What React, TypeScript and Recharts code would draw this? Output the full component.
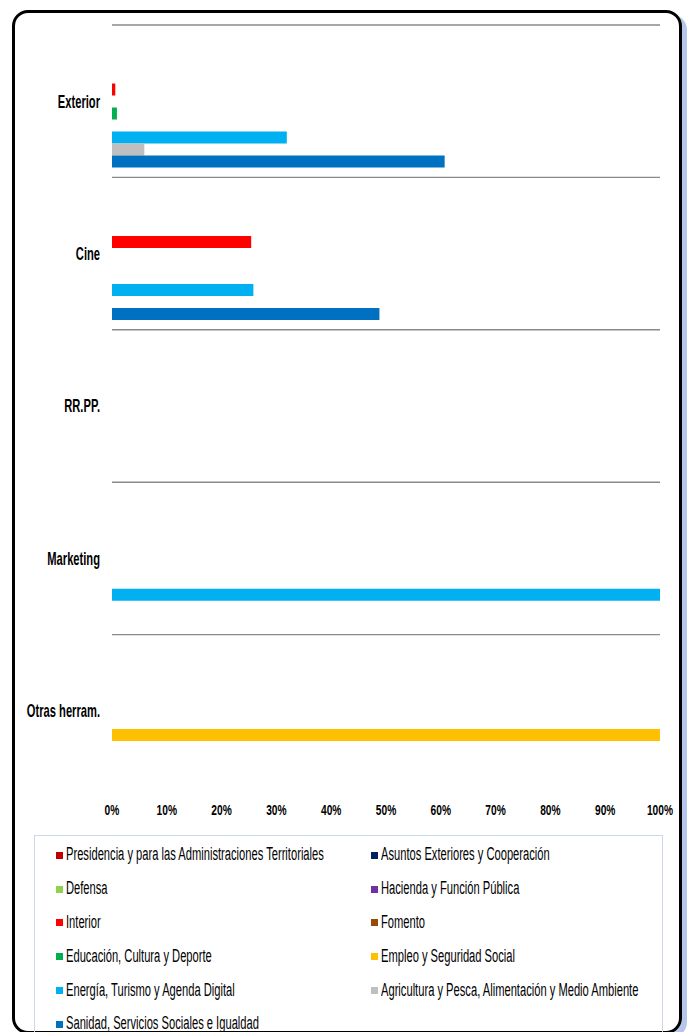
import { Bar, BarChart, CartesianGrid, XAxis, YAxis } from "recharts";

const categories = ["Exterior", "Cine", "RR.PP.", "Marketing", "Otras herram."];

const seriesNames = [
  "Presidencia y para las Administraciones Territoriales",
  "Asuntos Exteriores y Cooperación",
  "Defensa",
  "Hacienda y Función Pública",
  "Interior",
  "Fomento",
  "Educación, Cultura y Deporte",
  "Empleo y Seguridad Social",
  "Energía, Turismo y Agenda Digital",
  "Agricultura y Pesca, Alimentación y Medio Ambiente",
  "Sanidad, Servicios Sociales e Igualdad",
];

const seriesColors = [
  "#C00000",
  "#002060",
  "#92D050",
  "#7030A0",
  "#FF0000",
  "#984807",
  "#00B050",
  "#FFC000",
  "#00B0F0",
  "#BFBFBF",
  "#0070C0",
];

// values per category, in % (Exterior, Cine, RR.PP., Marketing, Otras herram.)
const presidencia = [0, 0, 0, 0, 0];
const asuntosExteriores = [0, 0, 0, 0, 0];
const defensa = [0, 0, 0, 0, 0];
const hacienda = [0, 0, 0, 0, 0];
const interior = [0.6, 25.4, 0, 0, 0];
const fomento = [0, 0, 0, 0, 0];
const educacion = [0.9, 0, 0, 0, 0];
const empleo = [0, 0, 0, 0, 100];
const energia = [31.9, 25.8, 0, 100, 0];
const agricultura = [5.9, 0, 0, 0, 0];
const sanidad = [60.7, 48.8, 0, 0, 0];

const seriesValues = [
  presidencia,
  asuntosExteriores,
  defensa,
  hacienda,
  interior,
  fomento,
  educacion,
  empleo,
  energia,
  agricultura,
  sanidad,
];

const xTicks = [0, 10, 20, 30, 40, 50, 60, 70, 80, 90, 100];

const data = categories.map((name, i) => {
  const row: Record<string, string | number> = { name };
  seriesValues.forEach((vals, s) => {
    row["s" + s] = vals[i];
  });
  return row;
});

// no narrow font installed, so a regular one is squeezed horizontally
const FONT = "'Liberation Sans', Arial, sans-serif";
const SQUEEZE = 0.62;

// gridlines sit on the top edge of every category band
const bandEdges = ({ offset }: any) => {
  const band = offset.height / categories.length;
  return categories.map((_, i) => offset.top + i * band);
};

const CategoryTick = (props: any) => {
  const { x, y, payload } = props;
  return (
    <g transform={`translate(${x},${y})`}>
      <text
        transform={`scale(${SQUEEZE},1)`}
        textAnchor="end"
        dy="0.35em"
        fill="#000"
        fontFamily={FONT}
        fontWeight="bold"
        fontSize={18}
      >
        {payload.value}
      </text>
    </g>
  );
};

const PercentTick = (props: any) => {
  const { x, y, payload } = props;
  return (
    <g transform={`translate(${x},${y})`}>
      <text
        transform="scale(0.73,1)"
        textAnchor="middle"
        dy="0.71em"
        fill="#000"
        fontFamily={FONT}
        fontWeight="bold"
        fontSize={14}
      >
        {payload.value}%
      </text>
    </g>
  );
};

export default function App() {
  return (
    <div
      style={{
        position: "absolute",
        left: 0,
        top: 0,
        width: 689,
        height: 1032,
        overflow: "hidden",
        background: "#fff",
      }}
    >
      <div
        style={{
          position: "absolute",
          left: 12,
          top: 10,
          width: 664,
          height: 1018,
          border: "3px solid #000",
          borderRadius: 16,
          boxShadow: "5px 4px 0 #b4c7ea",
        }}
      />
      <div style={{ position: "absolute", left: 0, top: 0 }}>
        <BarChart
          width={689}
          height={830}
          data={data}
          layout="vertical"
          margin={{ top: 25, right: 29, left: 0, bottom: 13 }}
          barCategoryGap="6.9%"
          barGap={0}
        >
          <CartesianGrid
            vertical={false}
            stroke="#8a8a8a"
            strokeWidth={1.4}
            horizontalCoordinatesGenerator={bandEdges}
          />
          <XAxis
            type="number"
            domain={[0, 100]}
            ticks={xTicks}
            axisLine={false}
            tickLine={false}
            tickSize={0}
            tickMargin={18}
            height={30}
            tick={<PercentTick />}
            interval={0}
          />
          <YAxis
            type="category"
            dataKey="name"
            width={112}
            axisLine={false}
            tickLine={false}
            tickSize={0}
            tickMargin={12}
            tick={<CategoryTick />}
            interval={0}
          />
          {seriesNames.map((n, s) => (
            <Bar
              key={n}
              dataKey={"s" + s}
              name={n}
              fill={seriesColors[s]}
              isAnimationActive={false}
            />
          ))}
        </BarChart>
      </div>
      <div
        style={{
          position: "absolute",
          left: 34,
          top: 835,
          width: 629,
          height: 220,
          border: "1px solid #cdd7ea",
          boxSizing: "border-box",
          paddingLeft: 21,
          paddingTop: 2,
          display: "grid",
          gridTemplateColumns: "315px 293px",
          gridAutoRows: "33.8px",
          alignItems: "center",
          fontFamily: FONT,
          fontSize: 18,
          color: "#000",
          overflow: "hidden",
        }}
      >
        {seriesNames.map((n, s) => (
          <div
            key={n}
            style={{ display: "flex", alignItems: "center", whiteSpace: "nowrap", overflow: "visible" }}
          >
            <span
              style={{
                display: "inline-block",
                flexShrink: 0,
                width: 7,
                height: 7,
                background: seriesColors[s],
                marginRight: 3,
                marginTop: 1,
              }}
            />
            <span
              style={{
                display: "inline-block",
                flexShrink: 0,
                transform: `scaleX(${SQUEEZE})`,
                transformOrigin: "left center",
              }}
            >
              {n}
            </span>
          </div>
        ))}
      </div>
    </div>
  );
}
